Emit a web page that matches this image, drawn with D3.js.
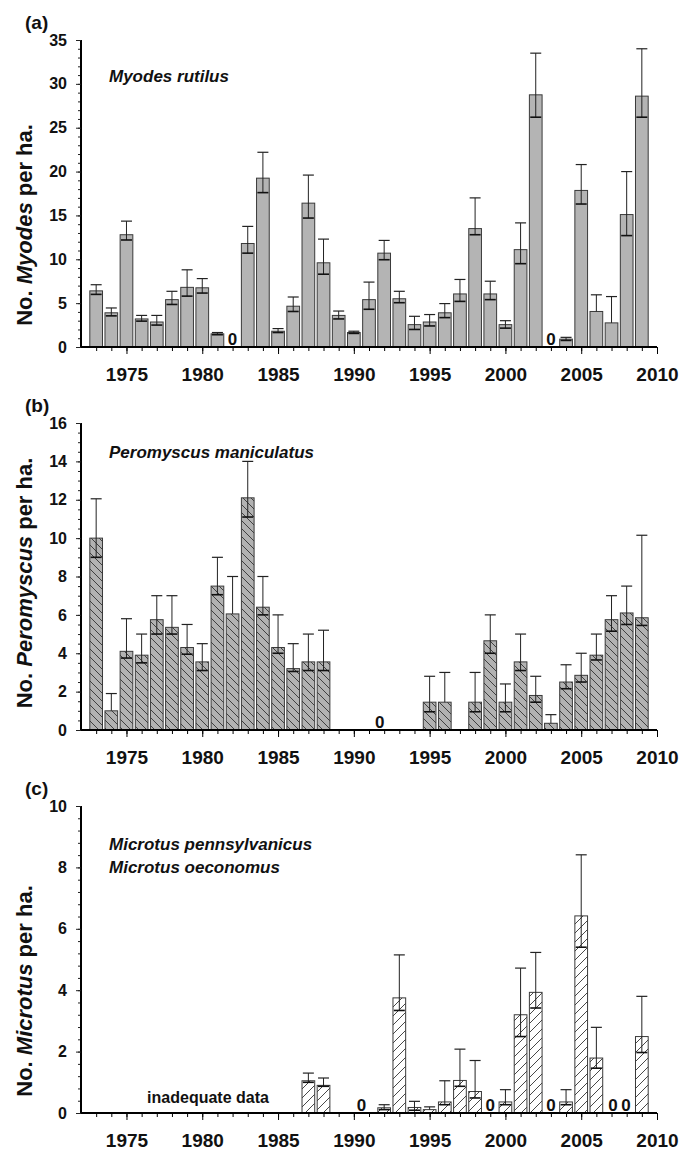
<!DOCTYPE html>
<html>
<head>
<meta charset="utf-8">
<script src="https://cdn.jsdelivr.net/npm/d3@7"></script>
<style>
  body { margin: 0; background: #fff; }
  svg text { font-family: "Liberation Sans", Arial, sans-serif; font-weight: bold; fill: #111; }
</style>
</head>
<body>
<div id="chart"></div>
<script>
// years shown as bars
const years = [1973,1974,1975,1976,1977,1978,1979,1980,1981,1982,1983,1984,1985,1986,1987,1988,1989,1990,1991,
  1992,1993,1994,1995,1996,1997,1998,1999,2000,2001,2002,2003,2004,2005,2006,2007,2008,2009];
const xTickLabels = [1975, 1980, 1985, 1990, 1995, 2000, 2005, 2010];

// (a) Myodes rutilus
const myodesMean  = [6.4,3.9,12.8,3.2,2.85,5.4,6.8,6.75,1.5,0,11.8,19.25,1.8,4.65,16.4,9.6,3.6,1.65,5.4,
  10.7,5.5,2.55,2.85,3.9,6.05,13.5,6.05,2.55,11.1,28.75,0,0.9,17.85,4.05,2.75,15.1,28.6];
const myodesUpper = [7.1,4.45,14.35,3.6,3.6,6.35,8.8,7.8,1.65,null,13.75,22.2,2.1,5.7,19.6,12.3,4.1,1.8,7.4,
  12.15,6.35,3.5,3.7,4.95,7.7,17.0,7.5,3.0,14.15,33.5,null,1.1,20.8,5.95,5.75,20.0,34.0];
const myodesLower = [6.0,3.55,12.2,2.95,2.5,4.85,5.8,6.15,1.4,null,10.7,17.6,1.65,4.05,14.7,8.3,3.2,1.55,4.3,
  9.95,5.05,2.0,2.4,3.35,5.2,12.8,5.4,2.15,9.5,26.2,null,0.75,16.3,null,null,12.7,26.2];
const myodesZeros = [1982, 2003];

// (b) Peromyscus maniculatus
const peroMean  = [10.0,1.0,4.1,3.9,5.75,5.35,4.3,3.55,7.5,6.05,12.1,6.4,4.3,3.2,3.55,3.55,0,0,0,
  0,0,0,1.45,1.45,null,1.45,4.65,1.45,3.55,1.8,0.35,2.5,2.85,3.9,5.75,6.1,5.85];
const peroUpper = [12.05,1.9,5.8,5.0,7.0,7.0,5.5,4.5,9.0,8.0,14.0,8.0,6.0,4.5,5.0,5.2,null,null,null,
  null,null,null,2.8,3.0,null,3.0,6.0,2.4,5.0,2.8,0.8,3.4,4.0,5.0,7.0,7.5,10.15];
const peroLower = [9.0,null,3.75,3.5,5.0,5.0,3.95,3.1,7.05,null,11.1,6.0,4.0,3.05,3.1,3.1,null,null,null,
  null,null,null,0.95,null,null,0.95,4.0,0.95,3.1,1.45,null,2.15,2.5,3.65,5.15,5.5,5.45];
const peroZeros = [1991.7];

// (c) Microtus pennsylvanicus / oeconomus
const microMean  = [null,null,null,null,null,null,null,null,null,null,null,null,null,null,1.05,0.9,null,0,null,
  0.17,3.75,0.18,0.11,0.36,1.06,0.7,0,0.36,3.2,3.93,0,0.36,6.42,1.79,0,0,2.49];
const microUpper = [null,null,null,null,null,null,null,null,null,null,null,null,null,null,1.3,1.14,null,null,null,
  0.27,5.15,0.38,0.2,1.05,2.08,1.71,null,0.76,4.72,5.23,null,0.76,8.41,2.79,null,null,3.8];
const microLower = [null,null,null,null,null,null,null,null,null,null,null,null,null,null,1.0,0.87,null,null,null,
  0.11,3.34,0.09,null,0.27,0.87,0.49,null,0.27,2.49,3.42,null,0.27,5.4,1.46,null,null,1.97];
const microZeros = [1990.5, 1999, 2003, 2007.1, 2007.95];

const W = 681, H = 1150;
const left = 81, right = 657, plotH = 307;

const svg = d3.select("#chart").append("svg").attr("width", W).attr("height", H);

const defs = svg.append("defs");
defs.append("pattern").attr("id", "hatchB").attr("patternUnits", "userSpaceOnUse")
  .attr("width", 8).attr("height", 8)
  .call(p => {
    p.append("rect").attr("width", 8).attr("height", 8).attr("fill", "#b2b2b2");
    p.append("path").attr("d", "M-2,-2 L10,10 M-2,6 L2,10 M6,-2 L10,2")
      .attr("stroke", "#333").attr("stroke-width", 0.9);
  });
defs.append("pattern").attr("id", "hatchC").attr("patternUnits", "userSpaceOnUse")
  .attr("width", 9).attr("height", 9)
  .call(p => {
    p.append("rect").attr("width", 9).attr("height", 9).attr("fill", "#fff");
    p.append("path").attr("d", "M-2,11 L11,-2 M-2,2 L2,-2 M7,11 L11,7")
      .attr("stroke", "#333").attr("stroke-width", 0.9);
  });

const x = d3.scaleLinear().domain([1972, 2010]).range([left, right]);
const barW = 12.7;

function panel(cfg) {
  const g = svg.append("g").attr("transform", `translate(0,${cfg.top})`);
  const y = d3.scaleLinear().domain([0, cfg.max]).range([plotH, 0]);

  const rows = years.map((yr, i) => ({yr, m: cfg.mean[i], hi: cfg.upper[i], lo: cfg.lower[i]}))
    .filter(d => d.m != null);

  g.selectAll("rect.bar").data(rows).join("rect")
    .attr("class", "bar")
    .attr("x", d => x(d.yr) - barW / 2)
    .attr("width", barW)
    .attr("y", d => y(d.m))
    .attr("height", d => plotH - y(d.m))
    .attr("fill", cfg.fill)
    .attr("stroke", "#3a3a3a")
    .attr("stroke-width", 1);

  // error bars
  const eb = rows.filter(d => d.hi != null);
  g.selectAll("line.eb").data(eb).join("line")
    .attr("x1", d => x(d.yr)).attr("x2", d => x(d.yr))
    .attr("y1", d => y(d.lo != null ? d.lo : d.m)).attr("y2", d => y(d.hi))
    .attr("stroke", "#222").attr("stroke-width", 1);
  g.selectAll("line.capHi").data(eb).join("line")
    .attr("x1", d => x(d.yr) - 5.5).attr("x2", d => x(d.yr) + 5.5)
    .attr("y1", d => y(d.hi)).attr("y2", d => y(d.hi))
    .attr("stroke", "#222").attr("stroke-width", 1.2);
  g.selectAll("line.capLo").data(eb.filter(d => d.lo != null)).join("line")
    .attr("x1", d => x(d.yr) - 5.5).attr("x2", d => x(d.yr) + 5.5)
    .attr("y1", d => y(d.lo)).attr("y2", d => y(d.lo))
    .attr("stroke", "#111").attr("stroke-width", 1.6);

  // zero labels
  g.selectAll("text.zero").data(cfg.zeros).join("text")
    .attr("x", d => x(d)).attr("y", plotH - 2)
    .attr("text-anchor", "middle").style("font-size", "17px").text("0");

  // axes
  const yMinor = g.append("g").attr("transform", `translate(${left},0)`)
    .call(d3.axisLeft(y).tickValues(d3.range(0, cfg.max + 1e-9, cfg.minor)).tickSize(3).tickFormat(""));
  yMinor.select(".domain").remove();
  const yAxis = g.append("g").attr("transform", `translate(${left},0)`)
    .call(d3.axisLeft(y).tickValues(d3.range(0, cfg.max + 1e-9, cfg.major)).tickSize(5).tickPadding(9));
  yAxis.select(".domain").attr("stroke-width", 2).attr("d", `M0,${plotH + 1}V0`);
  yAxis.selectAll("text").style("font-size", "16px");
  g.selectAll(".tick line").attr("stroke", "#222");

  const xMinor = g.append("g").attr("transform", `translate(0,${plotH})`)
    .call(d3.axisBottom(x).tickValues(d3.range(1973, 2010)).tickSize(4).tickFormat(""));
  xMinor.select(".domain").remove();
  const xAxis = g.append("g").attr("transform", `translate(0,${plotH})`)
    .call(d3.axisBottom(x).tickValues(xTickLabels).tickSize(7).tickPadding(14).tickFormat(d3.format("d")));
  xAxis.select(".domain").attr("stroke-width", 2).attr("d", `M${left},0H${right}`);
  xAxis.selectAll("text").style("font-size", "19px");

  // panel label
  g.append("text").attr("x", 25).attr("y", -11).style("font-size", "19px").text(cfg.tag);

  // species names
  cfg.species.forEach((s, i) => {
    g.append("text").attr("x", 109).attr("y", cfg.spY + i * 23)
      .style("font-size", "17px").style("font-style", "italic").text(s);
  });

  // y title
  const t = g.append("text")
    .attr("transform", `translate(24,${cfg.titleY}) rotate(-90)`)
    .attr("text-anchor", "middle").attr("dy", "0.36em")
    .style("font-size", "22px");
  t.append("tspan").text("No. ");
  t.append("tspan").style("font-style", "italic").text(cfg.genus);
  t.append("tspan").text(" per ha.");

  if (cfg.note) {
    g.append("text").attr("x", 208).attr("y", plotH - 10)
      .attr("text-anchor", "middle").style("font-size", "16px").text(cfg.note);
  }
}

panel({top: 40, max: 35, major: 5, minor: 1, mean: myodesMean, upper: myodesUpper, lower: myodesLower,
  zeros: myodesZeros, fill: "#b4b4b4", tag: "(a)", species: ["Myodes rutilus"], spY: 42,
  genus: "Myodes", titleY: 185});
panel({top: 423, max: 16, major: 2, minor: 0.5, mean: peroMean, upper: peroUpper, lower: peroLower,
  zeros: peroZeros, fill: "url(#hatchB)", tag: "(b)", species: ["Peromyscus maniculatus"], spY: 35,
  genus: "Peromyscus", titleY: 160});
panel({top: 806, max: 10, major: 2, minor: 0.4, mean: microMean, upper: microUpper, lower: microLower,
  zeros: microZeros, fill: "url(#hatchC)", tag: "(c)", species: ["Microtus pennsylvanicus", "Microtus oeconomus"],
  spY: 44, genus: "Microtus", titleY: 185, note: "inadequate data"});
</script>
</body>
</html>
